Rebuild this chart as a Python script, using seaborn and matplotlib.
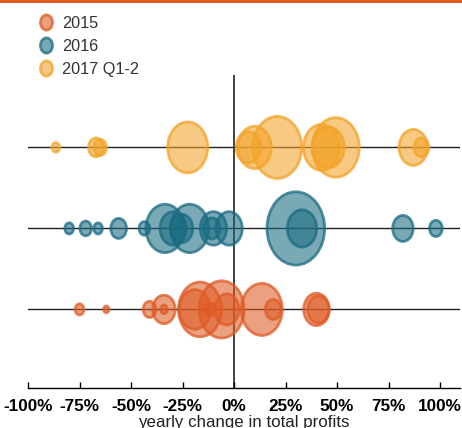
import matplotlib
import matplotlib.pyplot as plt
import numpy as np
import pandas as pd
import seaborn as sns
from matplotlib.lines import Line2D
from matplotlib.patches import Rectangle
from matplotlib.path import Path

matplotlib.use("Agg")

# データ: 前年比の利益変化(%) と バブルの大きさ(利益の規模)
years = ["2015", "2016", "2017 Q1-2"]

change_2015 = [-75, -62, -41, -34, -34, -19, -16.5, -13, -11, -6, -3.5, 13.5, 19, 40, 41]
profit_2015 = [0.8, 0.3, 1.7, 5.3, 0.5, 10.2, 19.4, 0.6, 1.0, 21.2, 6.3, 17.6, 2.6, 6.8, 4.8]

change_2016 = [-80, -72, -66, -56, -43.5, -33.5, -29.5, -25.5, -21.5, -10, -10.8, -2.4, 30, 33, 82, 98]
profit_2016 = [0.8, 1.4, 0.8, 2.6, 1.2, 15.2, 7.3, 5.3, 15.2, 7.3, 2.9, 7.3, 34.8, 9.0, 4.4, 1.7]

change_2017 = [-86.5, -67, -65, -22.5, 7, 10, 21, 42.5, 45.7, 49.4, 87, 91]
profit_2017 = [0.6, 2.3, 1.7, 16.8, 6.3, 11.6, 25.0, 13.7, 10.9, 23.0, 8.4, 2.3]

tick_values = [-100, -75, -50, -25, 0, 25, 50, 75, 100]
tick_labels = [f"{v}%" for v in tick_values]

colors = {"2015": "#de5b25", "2016": "#1a6b82", "2017 Q1-2": "#f3a328"}
FACE_ALPHA = 0.58
EDGE_ALPHA = 0.75

frames = []
for year, change, profit, row in zip(years,
                                     [change_2015, change_2016, change_2017],
                                     [profit_2015, profit_2016, profit_2017],
                                     [1, 2, 3]):
    frames.append(pd.DataFrame({"change": change, "profit": profit,
                                "row": row, "year": year}))
df = pd.concat(frames, ignore_index=True)
# 大きいバブルを先に描き、小さいバブルを上に重ねる
df = df.sort_values("profit", ascending=False)

# 少し縦長の楕円マーカー
circle = Path.unit_circle()
ellipse = Path(circle.vertices * np.array([1 / 1.27, 1.0]), circle.codes)

plt.rcParams["font.family"] = ["Liberation Sans", "DejaVu Sans"]

fig = plt.figure(figsize=(4.62, 4.28), dpi=100)
ax = fig.add_axes([28 / 462, 40 / 428, (460 - 28) / 462, (388 - 75) / 428])

# 行ごとの横線と 0% の縦線
for row in [1, 2, 3]:
    ax.axhline(row, color="#222222", linewidth=1, zorder=1)
ax.axvline(0, color="#333333", linewidth=1.3, zorder=1)

sns.scatterplot(data=df, x="change", y="row", hue="year", palette=colors,
                size="profit", sizes=(0, 3200), size_norm=(0, 40),
                marker=ellipse, linewidth=2.0, legend=False, ax=ax, zorder=2)

# 塗りと輪郭の透明度を分ける
points = ax.collections[-1]
fc = points.get_facecolors().copy()
ec = fc.copy()
fc[:, 3] = FACE_ALPHA
ec[:, 3] = EDGE_ALPHA
points.set_facecolors(fc)
points.set_edgecolors(ec)

ax.set_xlim(-100, 109.7)
ax.set_ylim(0.03, 3.894)
ax.set_yticks([])
ax.set_ylabel("")
ax.set_xticks(tick_values)
ax.set_xticklabels(tick_labels, fontweight="bold", fontsize=12.3, color="black")
ax.tick_params(axis="x", direction="in", length=4, width=1, pad=8, color="black")
ax.set_xlabel("yearly change in total profits", fontsize=12.2, color="#222222", labelpad=0.5)

for side in ["top", "right", "left"]:
    ax.spines[side].set_visible(False)
ax.spines["bottom"].set_color("black")
ax.spines["bottom"].set_linewidth(1)

# 凡例
handles = []
for year in years:
    face = matplotlib.colors.to_rgba(colors[year], FACE_ALPHA)
    edge = matplotlib.colors.to_rgba(colors[year], EDGE_ALPHA)
    handles.append(Line2D([], [], marker=ellipse, linestyle="", markersize=11,
                          markerfacecolor=face, markeredgecolor=edge,
                          markeredgewidth=2))
fig.legend(handles, years, loc="upper left", bbox_to_anchor=(38.8 / 462, 1 - 15.5 / 428),
           frameon=False, fontsize=11.7, labelcolor="#333333", borderpad=0,
           borderaxespad=0, handlelength=0.9, handletextpad=0.55, labelspacing=0.5)

# 上部のオレンジの帯
fig.add_artist(Rectangle((0, 1 - 3 / 428), 1, 3 / 428, transform=fig.transFigure,
                         color="#e05a1e", linewidth=0))

plt.savefig("out.png", dpi=100)
plt.close()
